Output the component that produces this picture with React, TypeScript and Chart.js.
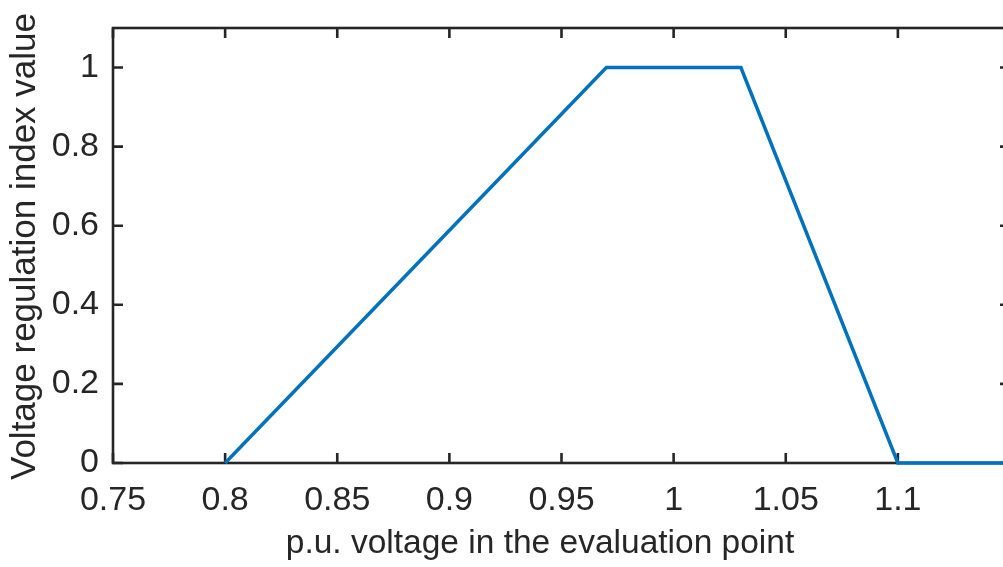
import React, { useEffect, useRef } from "react";
import { Chart, registerables } from "chart.js";

Chart.register(...registerables);

const xValues = [0.8, 0.97, 1.03, 1.1, 1.15];
const yValues = [0, 1, 1, 0, 0];
const xTicks = [0.75, 0.8, 0.85, 0.9, 0.95, 1, 1.05, 1.1];
const yTicks = [0, 0.2, 0.4, 0.6, 0.8, 1];
const xTitle = "p.u. voltage in the evaluation point";
const yTitle = "Voltage regulation index value";

const FONT = "'Liberation Sans', Arial, Helvetica, sans-serif";
const INK = "#262626";

const framePlugin = {
  id: "matlabFrame",
  beforeDatasetsDraw(chart: any) {
    const { ctx, chartArea } = chart;
    const { left, right, top, bottom } = chartArea;
    const xs = chart.scales.x;
    const ys = chart.scales.y;
    const tl = 10;
    ctx.save();
    ctx.strokeStyle = INK;
    ctx.lineWidth = 2.6;
    ctx.lineCap = "butt";
    ctx.beginPath();
    xTicks.forEach((v) => {
      const px = xs.getPixelForValue(v);
      ctx.moveTo(px, bottom);
      ctx.lineTo(px, bottom - tl);
      ctx.moveTo(px, top);
      ctx.lineTo(px, top + tl);
    });
    yTicks.forEach((v) => {
      const py = ys.getPixelForValue(v);
      ctx.moveTo(left, py);
      ctx.lineTo(left + tl, py);
      ctx.moveTo(right, py);
      ctx.lineTo(right - tl, py);
    });
    ctx.stroke();
    ctx.lineJoin = "miter";
    ctx.strokeRect(left, top, right - left, bottom - top);
    ctx.restore();
  },
  afterDraw(chart: any) {
    const { ctx } = chart;
    ctx.save();
    ctx.fillStyle = INK;
    ctx.textAlign = "center";
    ctx.textBaseline = "alphabetic";
    ctx.font = `33.5px ${FONT}`;
    ctx.fillText(xTitle, 540, 553);
    ctx.translate(35, 246.5);
    ctx.rotate(-Math.PI / 2);
    ctx.font = `35px ${FONT}`;
    ctx.fillText(yTitle, 0, 0);
    ctx.restore();
  },
};

export default function App() {
  const ref = useRef<HTMLCanvasElement | null>(null);
  useEffect(() => {
    if (!ref.current) return;
    const chart = new Chart(ref.current, {
      type: "line",
      data: {
        datasets: [
          {
            data: xValues.map((x, i) => ({ x, y: yValues[i] })),
            borderColor: "#0072BD",
            borderWidth: 3.5,
            pointRadius: 0,
            fill: false,
            tension: 0,
            clip: false as any,
          },
        ],
      },
      options: {
        animation: false,
        responsive: false,
        devicePixelRatio: 1,
        layout: { padding: { top: 28, right: 20, left: 0, bottom: 0 } },
        plugins: { legend: { display: false }, tooltip: { enabled: false }, title: { display: false } },
        scales: {
          x: {
            type: "linear",
            min: 0.75,
            max: 1.15,
            afterBuildTicks: (s: any) => {
              s.ticks = xTicks.map((v) => ({ value: v }));
            },
            afterFit: (s: any) => {
              s.height = 104;
              s.paddingLeft = 0;
              s.paddingRight = 0;
            },
            ticks: {
              autoSkip: false,
              maxRotation: 0,
              minRotation: 0,
              padding: 17,
              color: INK,
              font: { family: FONT, size: 34 },
              callback: (v: any) => String(v),
            },
            grid: { display: false, drawTicks: false },
            border: { display: false },
          },
          y: {
            type: "linear",
            min: 0,
            max: 1.1,
            afterBuildTicks: (s: any) => {
              s.ticks = yTicks.map((v) => ({ value: v }));
            },
            afterFit: (s: any) => {
              s.width = 113;
              s.paddingTop = 0;
              s.paddingBottom = 0;
            },
            ticks: {
              autoSkip: false,
              padding: 14,
              color: INK,
              font: { family: FONT, size: 34 },
              callback: (v: any) => String(v),
            },
            grid: { display: false, drawTicks: false },
            border: { display: false },
          },
        },
      },
      plugins: [framePlugin],
    });
    return () => chart.destroy();
  }, []);
  return (
    <div style={{ position: "fixed", left: 0, top: 0, width: 1003, height: 567, overflow: "hidden", background: "#fff" }}>
      <canvas ref={ref} width={1030} height={567} style={{ width: 1030, height: 567, display: "block" }} />
    </div>
  );
}
